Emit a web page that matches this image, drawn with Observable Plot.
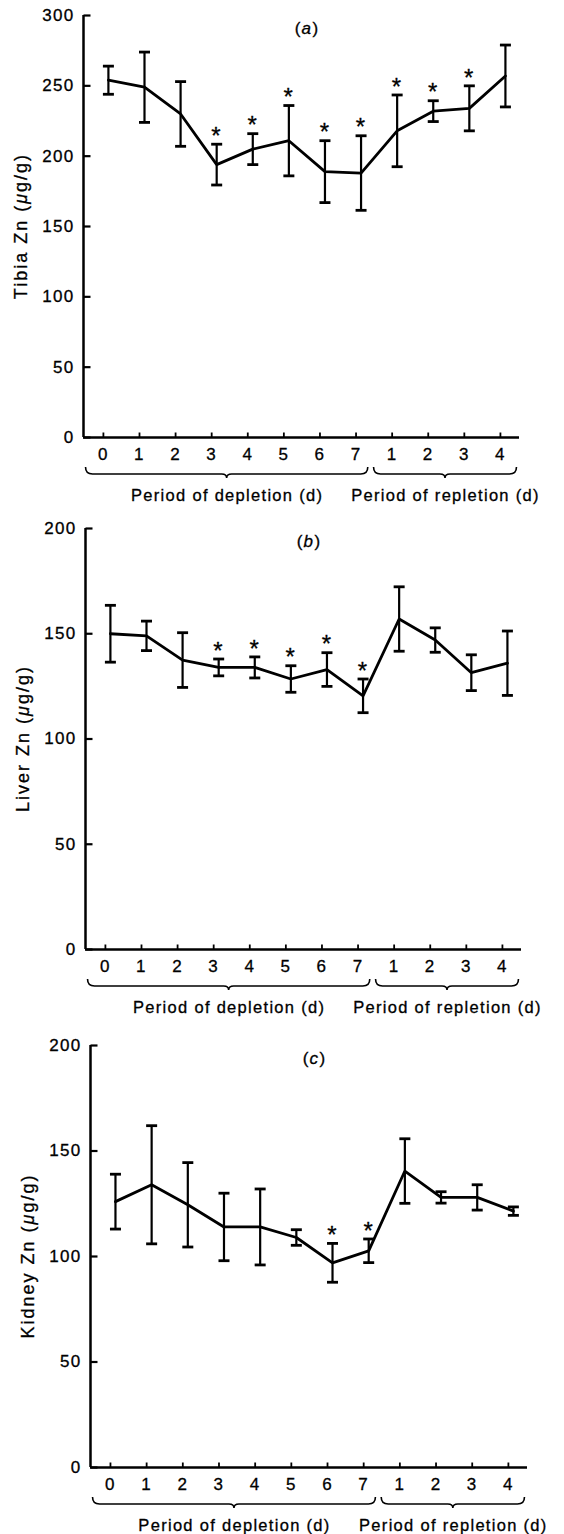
<!DOCTYPE html>
<html>
<head>
<meta charset="utf-8">
<script src="https://cdn.jsdelivr.net/npm/d3@7"></script>
<script src="https://cdn.jsdelivr.net/npm/@observablehq/plot@0.6"></script>
<style>
  html, body { margin: 0; padding: 0; background: #fff; }
  #chart { width: 564px; height: 1534px; overflow: hidden; }
  #chart svg { display: block; }
  #chart svg text { stroke: #000; stroke-width: 0.3px; }
</style>
</head>
<body>
<div id="chart"></div>
<script>
// ---- data ----
const dayLabels = ["0", "1", "2", "3", "4", "5", "6", "7", "1", "2", "3", "4"];
const braceLabels = ["Period of depletion (d)", "Period of repletion (d)"];
const braceFrom = [-0.62, 7.36];
const braceTo = [7.2, 11.32];

const tibiaMean = [254, 249, 230, 194, 205, 211, 189, 188, 218, 232, 234, 257];
const tibiaSE   = [10, 25, 23, 14.5, 11, 25, 22, 26.5, 25.5, 7.4, 16, 22];
const tibiaSig  = [0, 0, 0, 1, 1, 1, 1, 1, 1, 1, 1, 0];
const tibiaTicks = [0, 50, 100, 150, 200, 250, 300];

const liverMean = [150, 149, 137.5, 134, 134, 128.5, 133, 120.5, 157, 147, 131.5, 136];
const liverSE   = [13.5, 7, 13, 4, 5, 6.3, 8, 8, 15.3, 5.8, 8.5, 15.3];
const liverSig  = [0, 0, 0, 1, 1, 1, 1, 1, 0, 0, 0, 0];
const liverTicks = [0, 50, 100, 150, 200];

const kidneyMean = [126, 134, 124.5, 114, 114, 109, 97, 102.7, 140.5, 128, 128, 121.5];
const kidneySE   = [13, 28, 20, 16, 18, 3.7, 9.2, 5.6, 15.3, 2.7, 6, 2];
const kidneySig  = [0, 0, 0, 0, 0, 0, 1, 1, 0, 0, 0, 0];
const kidneyTicks = [0, 50, 100, 150, 200];

// ---- drawing ----
const FONT = "'Liberation Sans', Arial, Helvetica, sans-serif";
const W = 564;
const xDomain = [-0.69, 11.39];
const dayIndex = d3.range(dayLabels.length);
const braces = braceLabels.map((label, k) => ({label, from: braceFrom[k], to: braceTo[k]}));

const hbar = {draw(ctx) { ctx.moveTo(-5.5, 0); ctx.lineTo(5.5, 0); }};
const tickRight = {draw(ctx) { ctx.moveTo(0, 0); ctx.lineTo(7, 0); }};
const tickUp = {draw(ctx) { ctx.moveTo(0, 0); ctx.lineTo(0, -5); }};

function panel(cfg) {
  const {letter, labelPre, labelMu, labelPost, mean, se, sig, yTicks,
         height, marginTop, marginBottom, marginLeft, marginRight} = cfg;
  const yMax = d3.max(yTicks);
  const data = mean.map((m, i) => ({i, mean: m, lo: m - se[i], hi: m + se[i], sig: sig[i]}));
  const plot = Plot.plot({
    width: W, height, marginTop, marginBottom, marginLeft, marginRight,
    style: {fontFamily: FONT, fontSize: "17px", color: "#000", background: "#fff",
            overflow: "visible", letterSpacing: "1.3px"},
    x: {domain: xDomain},
    y: {domain: [0, yMax]},
    marks: [
      // axes lines
      Plot.ruleX([xDomain[0]], {y1: () => 0, y2: () => yMax, stroke: "#000", strokeWidth: 2.5}),
      Plot.ruleY([0], {x1: () => xDomain[0], x2: () => xDomain[1], stroke: "#000", strokeWidth: 2.5}),
      // y axis labels + inward ticks
      Plot.axisY({ticks: yTicks, tickSize: 0, tickPadding: 9, label: null, fontSize: 17, tickFormat: d3.format("d")}),
      Plot.dot(yTicks, {x: () => xDomain[0], y: d => d, symbol: tickRight, r: 1, fill: "none", stroke: "#000", strokeWidth: 2.2}),
      // x axis labels + inward ticks
      Plot.axisX({ticks: dayIndex, tickFormat: i => dayLabels[i], tickSize: 0, tickPadding: 10, dx: -5, label: null, fontSize: 17}),
      Plot.dot(dayIndex, {x: d => d, y: () => 0, symbol: tickUp, dx: -5, r: 1, fill: "none", stroke: "#000", strokeWidth: 1.8}),
      // error bars
      Plot.ruleX(data, {x: "i", y1: "lo", y2: "hi", stroke: "#000", strokeWidth: 2.2}),
      Plot.dot(data, {x: "i", y: "hi", symbol: hbar, r: 1, fill: "none", stroke: "#000", strokeWidth: 2.8}),
      Plot.dot(data, {x: "i", y: "lo", symbol: hbar, r: 1, fill: "none", stroke: "#000", strokeWidth: 2.8}),
      // mean line
      Plot.line(data, {x: "i", y: "mean", stroke: "#000", strokeWidth: 2.8, strokeLinejoin: "miter"}),
      // significance asterisks
      Plot.text(data.filter(d => d.sig), {x: "i", y: "hi", text: () => "*", dy: -8, fontSize: 24}),
      // period labels
      Plot.text(braces, {x: d => (d.from + d.to) / 2, y: () => 0, text: "label", dy: 58, fontSize: 16.5})
    ]
  });

  const xs = plot.scale("x"), ys = plot.scale("y");
  const svg = d3.select(plot);
  const y0 = ys.apply(0);
  // braces
  for (const b of braces) {
    const x0 = xs.apply(b.from), x1 = xs.apply(b.to), xm = (x0 + x1) / 2, yt = y0 + 30;
    const p = d3.path();
    p.moveTo(x0, yt);
    p.quadraticCurveTo(x0, yt + 7, x0 + 7, yt + 7);
    p.lineTo(xm - 5, yt + 7);
    p.quadraticCurveTo(xm, yt + 7, xm, yt + 11);
    p.quadraticCurveTo(xm, yt + 7, xm + 5, yt + 7);
    p.lineTo(x1 - 7, yt + 7);
    p.quadraticCurveTo(x1, yt + 7, x1, yt);
    svg.append("path").attr("d", p.toString()).attr("fill", "none")
      .attr("stroke", "#000").attr("stroke-width", 1.6);
  }
  // panel title (a)/(b)/(c)
  const fx0 = marginLeft, fx1 = W - marginRight;
  const t = svg.append("text")
    .attr("x", (fx0 + fx1) / 2 + 6).attr("y", marginTop + 13)
    .attr("text-anchor", "middle").attr("dominant-baseline", "central")
    .attr("font-size", 17).attr("font-family", FONT);
  t.append("tspan").text("(");
  t.append("tspan").attr("font-style", "italic").text(letter);
  t.append("tspan").text(")");
  // y label
  const cy = (marginTop + height - marginBottom) / 2;
  const lx = marginLeft - 62;
  const yl = svg.append("text")
    .attr("transform", `translate(${lx},${cy}) rotate(-90)`)
    .attr("text-anchor", "middle").attr("dominant-baseline", "central")
    .attr("font-size", 18).attr("font-family", FONT).style("letter-spacing", "2px");
  yl.append("tspan").text(labelPre);
  yl.append("tspan").attr("font-style", "italic").text(labelMu);
  yl.append("tspan").text(labelPost);
  return plot;
}

const chart = document.getElementById("chart");
chart.append(panel({
  letter: "a", labelPre: "Tibia Zn (", labelMu: "\u03bc", labelPost: "g/g)",
  mean: tibiaMean, se: tibiaSE, sig: tibiaSig, yTicks: tibiaTicks,
  height: 515, marginTop: 15, marginBottom: 78, marginLeft: 83, marginRight: 45
}));
chart.append(panel({
  letter: "b", labelPre: "Liver Zn (", labelMu: "\u03bc", labelPost: "g/g)",
  mean: liverMean, se: liverSE, sig: liverSig, yTicks: liverTicks,
  height: 515, marginTop: 13, marginBottom: 81, marginLeft: 85, marginRight: 43
}));
chart.append(panel({
  letter: "c", labelPre: "Kidney Zn (", labelMu: "\u03bc", labelPost: "g/g)",
  mean: kidneyMean, se: kidneySE, sig: kidneySig, yTicks: kidneyTicks,
  height: 504, marginTop: 15, marginBottom: 67, marginLeft: 90, marginRight: 37
}));
</script>
</body>
</html>
